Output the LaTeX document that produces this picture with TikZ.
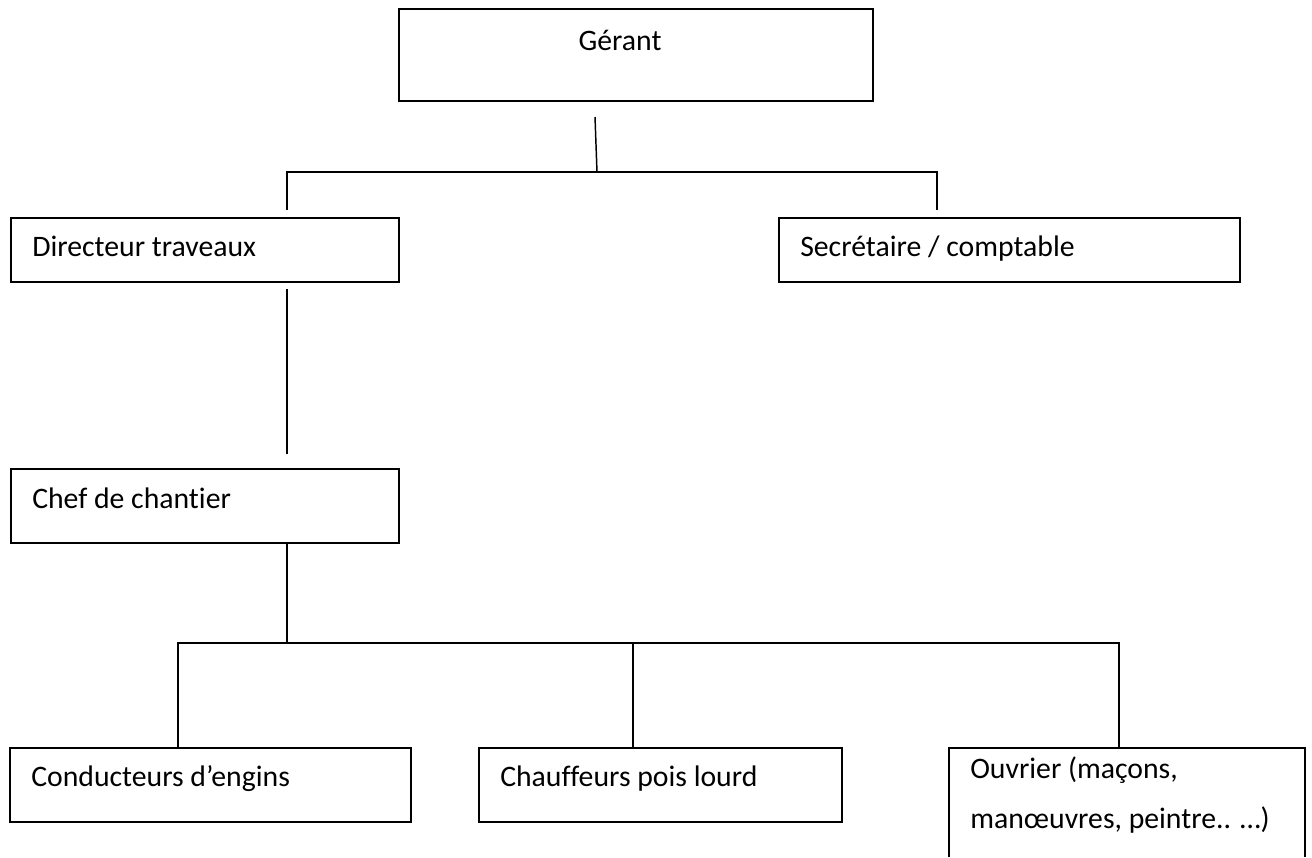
\documentclass[tikz,border=0pt]{standalone}
\usepackage{fontspec}
\setmainfont[Ligatures=NoCommon]{Carlito}
\usetikzlibrary{fit}
\begin{document}
\begin{tikzpicture}[x=0.75pt,y=-0.75pt,
  box/.style={draw=black, line width=1.3pt, rectangle, inner sep=0pt},
  openbox/.style={draw=none, rectangle, inner sep=0pt},
  lbl/.style={anchor=base west, inner sep=0pt, font=\fontsize{22.3}{37.5}\selectfont},
  link/.style={draw=black, line width=1.1pt}]
\useasboundingbox (0,0) rectangle (1312,857);
\fill[white] (0,0) rectangle (1312,857);

% boxes
\node[box, fit={(399,9) (873,101)}] (ger) {};
\node[box, fit={(11,218) (399,282)}] (dir) {};
\node[box, fit={(779,218) (1240,282)}] (sec) {};
\node[box, fit={(11,469) (399,543)}] (chef) {};
\node[box, fit={(10,748) (411,822)}] (cond) {};
\node[box, fit={(479,748) (842,822)}] (chauf) {};
\node[openbox, fit={(949,748) (1305,857)}] (ouv) {};
\draw[line width=1.3pt] (ouv.south west) |- (ouv.north east) -- (ouv.south east);

% labels
\node[lbl, anchor=base] (tger) at (620,50) {Gérant};
\node[lbl] (tdir) at (32,256) {Directeur traveaux};
\node[lbl] (tsec) at (800,256) {Secrétaire / comptable};
\node[lbl] (tchef) at (32,508) {Chef de chantier};
\node[lbl] (tcond) at (31,786) {Conducteurs d’engins};
\node[lbl] (tchauf) at (500,786) {Chauffeurs pois lourd};
\node[lbl, align=left] (touv) at (970,828) {Ouvrier (ma\char"E7 ons,\\manœuvres, peintre.. …)};

% connectors
\coordinate (gtop) at (595,117);
\coordinate (j1) at (597,172);
\coordinate (dl) at (287,210);
\coordinate (sl) at (937,210);
\draw[link] (gtop) -- (j1);
\draw[link] (dl) |- (j1) -| (sl);

\coordinate (d2) at (287,289);
\coordinate (c2) at (287,454);
\draw[link] (d2) -- (c2);

\coordinate (j2) at (287,643);
\coordinate (b1) at (178,643);
\coordinate (b2) at (633,643);
\coordinate (b3) at (1119,643);
\draw[link] (j2 |- chef.south) -- (j2);
\draw[link] (cond.north -| b1) -- (b1) -- (b3) -- (ouv.north -| b3);
\draw[link] (b2) -- (chauf.north -| b2);
\end{tikzpicture}
\end{document}
